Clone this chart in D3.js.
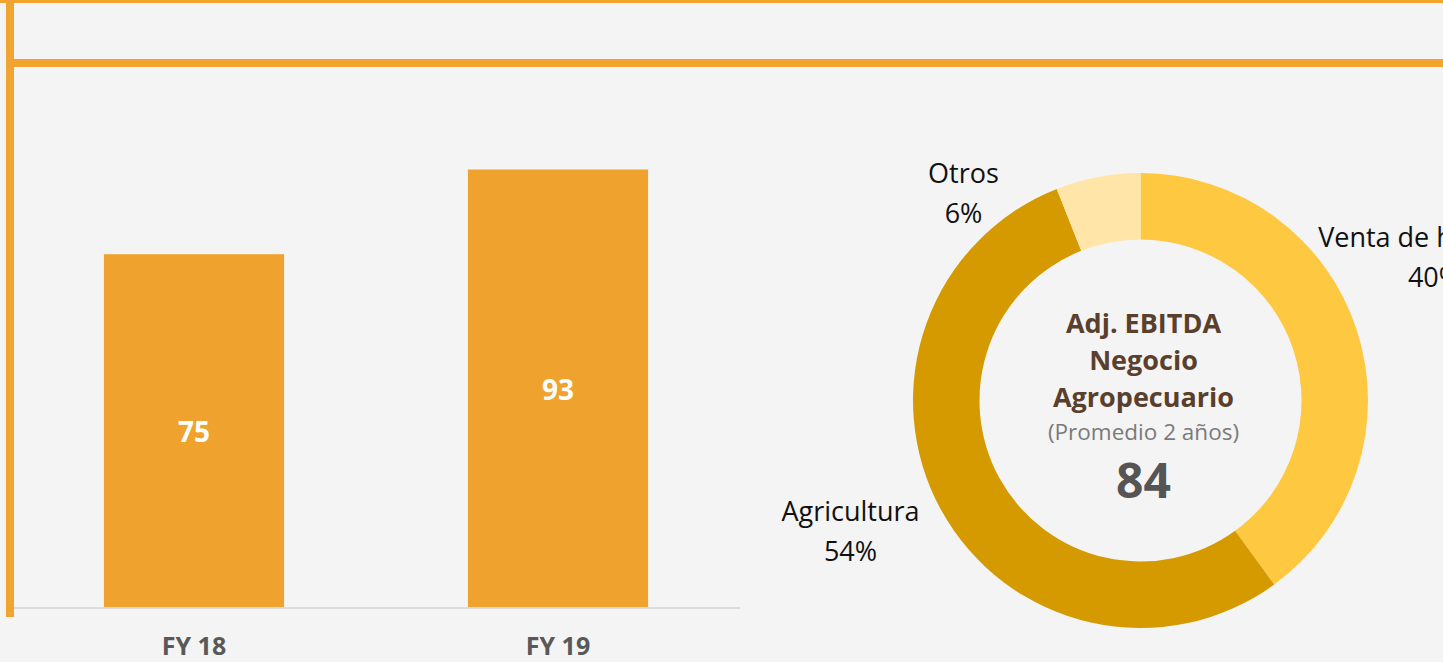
<!DOCTYPE html>
<html lang="es">
<head>
  <meta charset="UTF-8">
  <title>Adj. EBITDA Negocio Agropecuario</title>
  <script src="https://d3js.org/d3.v7.min.js"></script>
  <style>
    html, body { margin: 0; padding: 0; background: #f4f4f4; }
    svg { display: block; font-family: "Open Sans", "Noto Sans", sans-serif; }
  </style>
</head>
<body>
  <div id="chart"></div>
  <script>
    // Bar data
    const years = ["FY 18", "FY 19"];
    const ebitda = [75, 93];

    // Donut data
    const segments = ["Venta de hacienda", "Agricultura", "Otros"];
    const shares = [40, 54, 6];
    const segColors = ["#fec841", "#d59a00", "#ffe5a8"];
    const average = 84;

    const width = 1443;
    const height = 662;
    const orange = "#f2a431";

    const svg = d3.select("#chart")
      .append("svg")
      .attr("width", width)
      .attr("height", height);

    svg.append("rect").attr("width", width).attr("height", height).attr("fill", "#f4f4f4");

    // frame lines
    svg.append("rect").attr("x", 0).attr("y", 0).attr("width", width).attr("height", 3).attr("fill", orange);
    svg.append("rect").attr("x", 6).attr("y", 59).attr("width", width - 6).attr("height", 8).attr("fill", orange);
    svg.append("rect").attr("x", 6).attr("y", 0).attr("width", 8).attr("height", 617).attr("fill", orange);

    // Bar chart
    const x = d3.scaleBand()
      .domain(years)
      .range([12, 740])
      .paddingInner(0.505)
      .paddingOuter(0.2525);

    const y = d3.scaleLinear()
      .domain([0, 100])
      .range([607, 136.6]);

    svg.selectAll("rect.bar")
      .data(years)
      .enter()
      .append("rect")
      .attr("class", "bar")
      .attr("x", d => x(d))
      .attr("y", (d, i) => y(ebitda[i]))
      .attr("width", x.bandwidth())
      .attr("height", (d, i) => y(0) - y(ebitda[i]))
      .attr("fill", "#efa32e");

    svg.append("line")
      .attr("x1", 14).attr("x2", 740)
      .attr("y1", y(0) + 1).attr("y2", y(0) + 1)
      .attr("stroke", "#dcdcdc")
      .attr("stroke-width", 2);

    svg.selectAll("text.val")
      .data(years)
      .enter()
      .append("text")
      .attr("class", "val")
      .attr("x", d => x(d) + x.bandwidth() / 2)
      .attr("y", (d, i) => (y(ebitda[i]) + y(0)) / 2 + 2)
      .attr("dy", "0.35em")
      .attr("text-anchor", "middle")
      .attr("font-size", 28)
      .attr("font-weight", "bold")
      .attr("fill", "#fff")
      .text((d, i) => ebitda[i]);

    svg.selectAll("text.cat")
      .data(years)
      .enter()
      .append("text")
      .attr("class", "cat")
      .attr("x", d => x(d) + x.bandwidth() / 2)
      .attr("y", 646)
      .attr("dy", "0.35em")
      .attr("text-anchor", "middle")
      .attr("font-size", 25)
      .attr("font-weight", "bold")
      .attr("fill", "#595959")
      .text(d => d);

    // Donut
    const cx = 1140.5, cy = 400.5;
    const pie = d3.pie().sort(null).value(d => d);
    const arc = d3.arc().innerRadius(161).outerRadius(227.5);

    const g = svg.append("g").attr("transform", `translate(${cx},${cy})`);
    g.selectAll("path")
      .data(pie(shares))
      .enter()
      .append("path")
      .attr("d", arc)
      .attr("fill", (d, i) => segColors[i]);

    // label anchors (relative to donut centre)
    const labelPos = [[294, -154], [-290, 120], [-177, -218]];
    const labels = g.selectAll("g.lbl")
      .data(segments)
      .enter()
      .append("g")
      .attr("class", "lbl")
      .attr("transform", (d, i) => `translate(${labelPos[i][0]},${labelPos[i][1]})`);
    labels.append("text")
      .attr("text-anchor", "middle")
      .attr("font-size", 27)
      .attr("fill", "#111")
      .attr("y", 0)
      .text(d => d);
    labels.append("text")
      .attr("text-anchor", "middle")
      .attr("font-size", 27)
      .attr("fill", "#111")
      .attr("y", 40)
      .text((d, i) => shares[i] + "%");

    // centre text
    const centre = svg.append("g").attr("transform", `translate(${cx + 3},0)`);
    const titleLines = ["Adj. EBITDA", "Negocio", "Agropecuario"];
    centre.selectAll("text.t")
      .data(titleLines)
      .enter()
      .append("text")
      .attr("class", "t")
      .attr("text-anchor", "middle")
      .attr("y", (d, i) => 333 + i * 37)
      .attr("font-size", 27)
      .attr("font-weight", "bold")
      .attr("fill", "#5a3f2c")
      .text(d => d);
    centre.append("text")
      .attr("text-anchor", "middle")
      .attr("y", 440)
      .attr("font-size", 22.5)
      .attr("fill", "#7a7a7a")
      .text("(Promedio 2 años)");
    centre.append("text")
      .attr("text-anchor", "middle")
      .attr("y", 498)
      .attr("font-size", 48)
      .attr("font-weight", "bold")
      .attr("fill", "#555")
      .text(average);
  </script>
</body>
</html>
